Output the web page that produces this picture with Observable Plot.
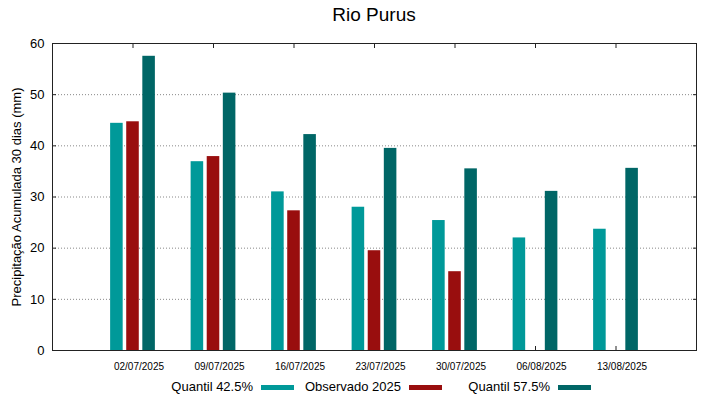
<!DOCTYPE html>
<html>
<head>
<meta charset="utf-8">
<script src="https://cdn.jsdelivr.net/npm/d3@7"></script>
<script src="https://cdn.jsdelivr.net/npm/@observablehq/plot@0.6"></script>
<style>
  html, body { margin: 0; padding: 0; background: #fff; }
  body { width: 719px; height: 399px; overflow: hidden; font-family: "Liberation Sans", Arial, sans-serif; color: #000; }
  #title { box-sizing: border-box; width: 719px; height: 30px; line-height: 30px; padding-left: 52px; padding-right: 23px; text-align: center; font-size: 19px; }
  #chart svg { display: block; }
  #legend { position: relative; width: 719px; height: 22px; font-size: 13px; }
  #legend .lab { position: absolute; top: 2px; line-height: 16px; white-space: nowrap; text-align: right; }
  #legend .sw { position: absolute; top: 8px; height: 5px; width: 33px; }
</style>
</head>
<body>
<div id="title">Rio Purus</div>
<div id="chart"></div>
<div id="legend"></div>
<script>
const dates = ["02/07/2025", "09/07/2025", "16/07/2025", "23/07/2025", "30/07/2025", "06/08/2025", "13/08/2025"];
const quantil425 = [44.4, 36.9, 31.0, 28.0, 25.4, 22.0, 23.7];
const observado2025 = [44.7, 37.9, 27.3, 19.5, 15.4, null, null];
const quantil575 = [57.5, 50.3, 42.2, 39.5, 35.5, 31.1, 35.6];
const seriesNames = ["Quantil 42.5%", "Observado 2025", "Quantil 57.5%"];
const seriesColors = ["#009999", "#990e0e", "#006666"];
const yTicks = [0, 10, 20, 30, 40, 50, 60];

const seriesValues = [quantil425, observado2025, quantil575];
const offsets = [-0.2, 0, 0.2];
const half = 0.078;
const rows = [];
seriesValues.forEach((vals, k) => {
  vals.forEach((v, i) => {
    if (v != null) rows.push({i, k, value: v, x1: i + offsets[k] - half, x2: i + offsets[k] + half});
  });
});
const idx = dates.map((d, i) => i);
const grid = yTicks.filter(t => t > 0 && t < 60);

const plot = Plot.plot({
  width: 719,
  height: 347,
  marginTop: 13,
  marginBottom: 27,
  marginLeft: 52,
  marginRight: 23,
  style: {fontFamily: "Liberation Sans, Arial, sans-serif", color: "#000", background: "#fff"},
  x: {type: "linear", domain: [-1, 7]},
  y: {domain: [0, 60]},
  color: {domain: [0, 1, 2], range: seriesColors},
  marks: [
    Plot.gridY(grid, {stroke: "#888", strokeOpacity: 1, strokeDasharray: "1,2"}),
    Plot.axisX({anchor: "top", ticks: idx, tickSize: -4, tickFormat: () => "", label: null, stroke: "#222"}),
    Plot.axisX({anchor: "bottom", ticks: idx, tickSize: -4, tickFormat: () => "", label: null, stroke: "#222"}),
    Plot.axisY({anchor: "right", ticks: yTicks, tickSize: -4, tickFormat: () => "", label: null, stroke: "#222"}),
    Plot.axisY({anchor: "left", ticks: yTicks, tickSize: -4, tickFormat: () => "", label: null, stroke: "#222"}),
    Plot.rectY(rows, {x1: "x1", x2: "x2", y: "value", fill: d => d.k, inset: 0}),
    Plot.axisX({anchor: "bottom", ticks: idx, tickSize: 0, tickPadding: 12, dx: 6, tickFormat: i => dates[i], fontSize: 10, label: null}),
    Plot.axisY({anchor: "left", ticks: yTicks, tickSize: 0, tickPadding: 8, fontSize: 13,
      label: "Precipitação Acumulada 30 dias (mm)", labelAnchor: "center", labelArrow: "none", labelOffset: 41}),
    Plot.frame({stroke: "#222"})
  ]
});
document.getElementById("chart").appendChild(plot);

const legend = document.getElementById("legend");
const swatchLefts = [261, 409, 558];
seriesNames.forEach((name, k) => {
  const lab = document.createElement("span");
  lab.className = "lab";
  lab.textContent = name;
  lab.style.right = (719 - (swatchLefts[k] - 8)) + "px";
  legend.appendChild(lab);
  const sw = document.createElement("span");
  sw.className = "sw";
  sw.style.left = swatchLefts[k] + "px";
  sw.style.background = seriesColors[k];
  legend.appendChild(sw);
});
</script>
</body>
</html>
